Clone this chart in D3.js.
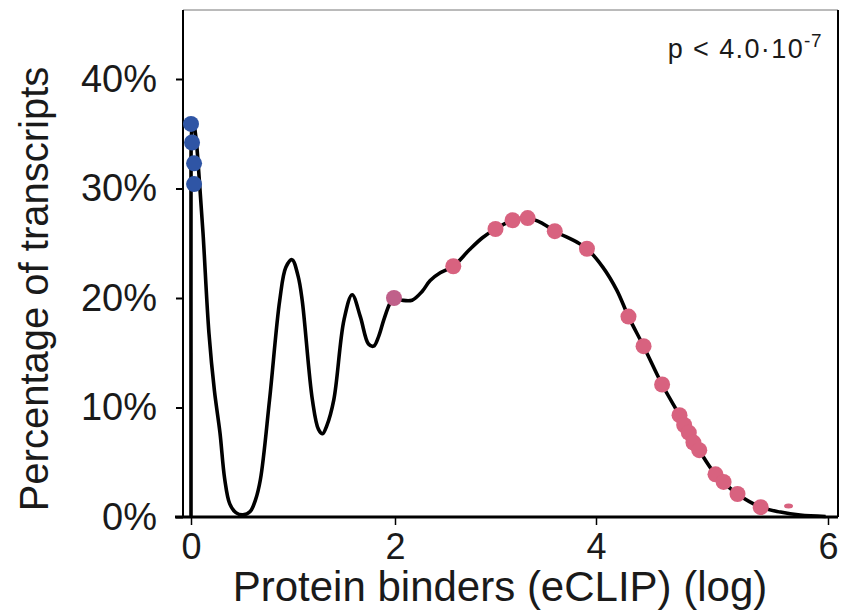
<!DOCTYPE html>
<html>
<head>
<meta charset="utf-8">
<script src="https://cdn.jsdelivr.net/npm/d3@7"></script>
<style>
  body { margin: 0; background: #fff; }
  text { font-family: "Liberation Sans", Arial, sans-serif; fill: #1a1a1a; }
</style>
</head>
<body>
<div id="chart"></div>
<script>
// Tick values
const xTicks = [0, 2, 4, 6];
const yTicks = [0, 10, 20, 30, 40];

// Density curve (x = log binders, y = percent)
const curveX = [0, 0, 0, 0.005, 0.02, 0.05, 0.08, 0.118, 0.176, 0.23, 0.284, 0.33, 0.38, 0.44, 0.51, 0.58, 0.63, 0.68, 0.77, 0.87, 0.93, 0.99, 1.05, 1.09, 1.19, 1.25, 1.29, 1.33, 1.40, 1.50, 1.58, 1.66, 1.74, 1.79, 1.84, 1.89, 1.95, 1.99, 2.07, 2.17, 2.27, 2.35, 2.45, 2.58, 2.74, 2.87, 3.00, 3.17, 3.32, 3.47, 3.59, 3.81, 3.91, 4.06, 4.18, 4.28, 4.41, 4.57, 4.72, 4.89, 5.03, 5.22, 5.42, 5.59, 5.76, 5.98];
const curveY = [0, 15, 30, 35, 36.3, 34.5, 31, 25.9, 16.8, 11.5, 7.7, 3.5, 1.2, 0.4, 0.2, 0.5, 1.5, 3.4, 10.7, 19.8, 22.8, 23.5, 22, 19.8, 10.7, 8, 7.6, 8.3, 10.7, 18.0, 20.3, 18.3, 15.8, 15.6, 16.5, 18, 19.5, 20.0, 19.8, 19.8, 20.6, 21.6, 22.3, 22.9, 24.4, 25.5, 26.3, 27.1, 27.3, 26.8, 26.1, 25.1, 24.5, 22.8, 20.7, 18.3, 15.6, 12.1, 9.3, 6.1, 3.9, 2.1, 0.9, 0.45, 0.18, 0.05];

// Blue points (near zero)
const blueX = [0, 0.01, 0.03, 0.03];
const blueY = [35.9, 34.2, 32.3, 30.4];

// Pink points
const pinkX = [1.99, 2.58, 3.00, 3.17, 3.32, 3.59, 3.91, 4.28, 4.41, 4.57, 4.72, 4.76, 4.80, 4.84, 4.89, 5.03, 5.10, 5.22, 5.42];
const pinkY = [20.0, 22.9, 26.3, 27.1, 27.3, 26.1, 24.5, 18.3, 15.6, 12.1, 9.3, 8.4, 7.7, 6.8, 6.1, 3.9, 3.2, 2.1, 0.9];

// Small stray mark
const strayX = [5.66];
const strayY = [1.0];

const W = 846, H = 615;
const frameL = 183, frameR = 838, frameT = 10, frameB = 517;

const svg = d3.select("#chart").append("svg")
  .attr("width", W).attr("height", H);

const x = d3.scaleLinear().domain(xTicks).range([191, 395, 596, 828]);
const y = d3.scaleLinear().domain([0, 40]).range([frameB, 79]);

// Frame
svg.append("line").attr("x1", frameL).attr("x2", frameR).attr("y1", frameT).attr("y2", frameT)
  .attr("stroke", "#777").attr("stroke-width", 1);
svg.append("line").attr("x1", frameR).attr("x2", frameR).attr("y1", frameT).attr("y2", frameB)
  .attr("stroke", "#000").attr("stroke-width", 2);

// Axes
const yAxis = svg.append("g").attr("transform", `translate(${frameL},0)`)
  .call(d3.axisLeft(y).tickValues(yTicks).tickFormat(d => d + "%").tickSize(7).tickPadding(19));
yAxis.select(".domain").attr("d", `M0,${frameT}V${frameB}`).attr("stroke-width", 2);
yAxis.selectAll(".tick line").attr("stroke-width", 2);
yAxis.selectAll(".tick text").attr("font-size", 38).attr("font-family", "Liberation Sans, Arial, sans-serif")
  .attr("fill", "#1a1a1a");

const xAxis = svg.append("g").attr("transform", `translate(0,${frameB})`)
  .call(d3.axisBottom(x).tickValues(xTicks).tickFormat(d3.format("d")).tickSize(8).tickPadding(8));
xAxis.select(".domain").attr("d", `M${frameL - 8},0H${frameR}`).attr("stroke-width", 3);
xAxis.selectAll(".tick line").attr("stroke-width", 1.5);
xAxis.selectAll(".tick text").attr("font-size", 36).attr("font-family", "Liberation Sans, Arial, sans-serif")
  .attr("fill", "#1a1a1a");

// Axis titles
svg.append("text")
  .attr("x", 500).attr("y", 601)
  .attr("text-anchor", "middle").attr("font-size", 42)
  .text("Protein binders (eCLIP) (log)");
svg.append("text")
  .attr("transform", "translate(48,289) rotate(-90)")
  .attr("text-anchor", "middle").attr("font-size", 40)
  .text("Percentage of transcripts");

// p-value annotation
const pt = svg.append("text")
  .attr("x", 822).attr("y", 58)
  .attr("text-anchor", "end").attr("font-size", 27)
  .attr("letter-spacing", 1.4);
pt.append("tspan").text("p < 4.0\u00b710");
pt.append("tspan").attr("dy", -11).attr("font-size", 19).attr("letter-spacing", 0.5).text("-7");

// Curve
const curveData = curveX.map((d, i) => ({ x: d, y: curveY[i] }));
const line = d3.line()
  .x(d => x(d.x))
  .y(d => y(d.y))
  .curve(d3.curveCatmullRom.alpha(0.5));
svg.append("path")
  .datum(curveData)
  .attr("fill", "none")
  .attr("stroke", "#000")
  .attr("stroke-width", 3.6)
  .attr("d", line);

// Points
const pink = pinkX.map((d, i) => ({ x: d, y: pinkY[i] }));
svg.selectAll(".pink").data(pink).enter().append("circle")
  .attr("class", "pink")
  .attr("cx", d => x(d.x)).attr("cy", d => y(d.y))
  .attr("r", 8)
  .attr("fill", (d, i) => i === 0 ? "#c0608a" : "#d8627f");

svg.selectAll(".stray").data(strayX).enter().append("ellipse")
  .attr("cx", (d) => x(d)).attr("cy", (d, i) => y(strayY[i]))
  .attr("rx", 4.5).attr("ry", 2.5)
  .attr("fill", "#d8627f");

const blue = blueX.map((d, i) => ({ x: d, y: blueY[i] }));
svg.selectAll(".blue").data(blue).enter().append("circle")
  .attr("class", "blue")
  .attr("cx", d => x(d.x)).attr("cy", d => y(d.y))
  .attr("r", 8)
  .attr("fill", "#2f55a5");
</script>
</body>
</html>
